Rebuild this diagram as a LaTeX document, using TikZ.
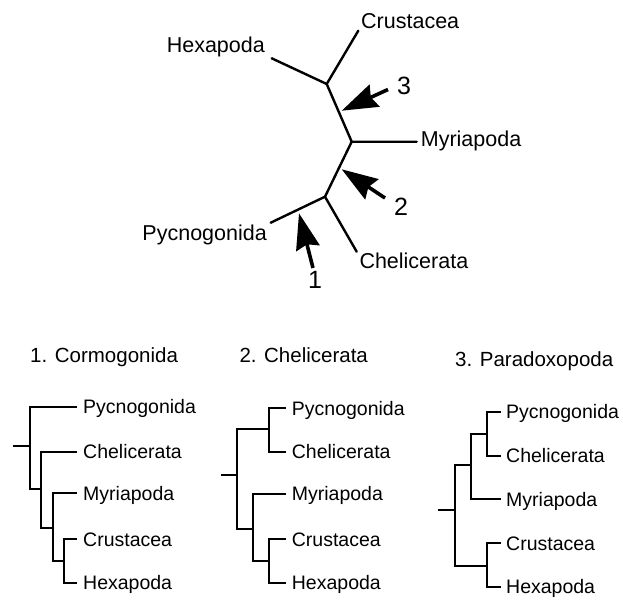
\documentclass[tikz,border=0pt]{standalone}
\usepackage{fontspec}
\setmainfont{Liberation Sans}
\usetikzlibrary{arrows.meta}
\begin{document}
\begin{tikzpicture}[x=1pt,y=-1pt,
  topline/.style={line width=2.4pt,line cap=round},
  botline/.style={line width=1.8pt},
  toplab/.style={inner sep=0pt,font=\fontsize{21.5}{24}\selectfont},
  numlab/.style={inner sep=0pt,font=\fontsize{25}{28}\selectfont},
  botlab/.style={inner sep=0pt,font=\fontsize{19.5}{22}\selectfont,anchor=base west},
  titlelab/.style={inner sep=0pt,font=\fontsize{20.5}{23}\selectfont,anchor=base west},
  bigarrow/.style={line width=3.6pt,-{Stealth[length=36pt,width=24pt,inset=4pt]}}]
\useasboundingbox (0,0) rectangle (623,599);
% ---------- top unrooted tree ----------
\coordinate (n3) at (326.7,84);
\coordinate (n2) at (351.7,141.7);
\coordinate (n1) at (325,196.7);
\coordinate (hexE) at (271.7,58.3);
\coordinate (cruE) at (358.3,30.7);
\coordinate (myrE) at (416.7,141.7);
\coordinate (pycE) at (270.7,222.7);
\coordinate (cheE) at (356.7,251.7);
\node[toplab,anchor=base west] (tCru) at (361,28.3) {Crustacea};
\node[toplab,anchor=base east] (tHex) at (265,52.7) {Hexapoda};
\node[toplab,anchor=base west] (tMyr) at (420.7,146.7) {Myriapoda};
\node[toplab,anchor=base east] (tPyc) at (267,240) {Pycnogonida};
\node[toplab,anchor=base west] (tChe) at (359.3,268.3) {Chelicerata};
\draw[topline] (hexE) -- (n3) -- (cruE);
\draw[topline] (n3) -- (n2) -- (myrE);
\draw[topline] (n2) -- (n1) -- (pycE);
\draw[topline] (n1) -- (cheE);
% arrows
\coordinate (a3t) at (388,89.5);
\coordinate (a3h) at (341.7,110.7);
\coordinate (a2t) at (385,198);
\coordinate (a2h) at (341.7,169.3);
\coordinate (a1t) at (313,268);
\coordinate (a1h) at (299,213.3);
\draw[bigarrow] (a3t) -- (a3h);
\draw[bigarrow] (a2t) -- (a2h);
\draw[bigarrow] (a1t) -- (a1h);
\node[numlab,anchor=base] (num3) at (404,95) {3};
\node[numlab,anchor=base] (num2) at (401,215) {2};
\node[numlab,anchor=base] (num1) at (315,288.3) {1};
% ---------- tree 1: Cormogonida ----------
\node[titlelab] (t1) at (30,362) {1. Cormogonida};
\node[botlab] (a1) at (83,413.5) {Pycnogonida};
\node[botlab] (b1) at (83,458.5) {Chelicerata};
\node[botlab] (c1) at (83,500) {Myriapoda};
\node[botlab] (d1) at (83,546) {Crustacea};
\node[botlab] (e1) at (83,589.5) {Hexapoda};
\draw[botline] (13.3,446) -- (30,446);
\draw[botline] (77.3,406.7) -- (30,406.7) -- (30,489.3) -- (40.7,489.3);
\draw[botline] (77.3,451.7) -- (40.7,451.7) -- (40.7,528.3) -- (52.7,528.3);
\draw[botline] (77.3,493.3) -- (52.7,493.3) -- (52.7,560.7) -- (64,560.7);
\draw[botline] (77.3,539.3) -- (64,539.3) -- (64,582.7) -- (77.3,582.7);
% ---------- tree 2: Chelicerata ----------
\node[titlelab] (t2) at (239.3,362) {2. Chelicerata};
\node[botlab] (a2) at (291.7,415) {Pycnogonida};
\node[botlab] (b2) at (291.7,458.5) {Chelicerata};
\node[botlab] (c2) at (291.7,500.7) {Myriapoda};
\node[botlab] (d2) at (291.7,546) {Crustacea};
\node[botlab] (e2) at (291.7,589.5) {Hexapoda};
\draw[botline] (220.7,475) -- (236.7,475);
\draw[botline] (286,408.3) -- (269.3,408.3) -- (269.3,451.7) -- (286,451.7);
\draw[botline] (269.3,429) -- (236.7,429) -- (236.7,529) -- (252.7,529);
\draw[botline] (286,494) -- (252.7,494) -- (252.7,560.7) -- (269.3,560.7);
\draw[botline] (286,539.3) -- (269.3,539.3) -- (269.3,582.7) -- (286,582.7);
% ---------- tree 3: Paradoxopoda ----------
\node[titlelab] (t3) at (455,366.5) {3. Paradoxopoda};
\node[botlab] (a3) at (506,418.4) {Pycnogonida};
\node[botlab] (b3) at (506,462.7) {Chelicerata};
\node[botlab] (c3) at (506,506) {Myriapoda};
\node[botlab] (d3) at (506,550) {Crustacea};
\node[botlab] (e3) at (506,593.4) {Hexapoda};
\draw[botline] (438.3,510) -- (455,510);
\draw[botline] (500.7,411.7) -- (487.3,411.7) -- (487.3,456) -- (500.7,456);
\draw[botline] (487.3,434) -- (471,434) -- (471,499.3) -- (500.7,499.3);
\draw[botline] (471,465) -- (455,465) -- (455,566) -- (486.7,566);
\draw[botline] (500.7,543.3) -- (486.7,543.3) -- (486.7,586.7) -- (500.7,586.7);
\end{tikzpicture}
\end{document}
